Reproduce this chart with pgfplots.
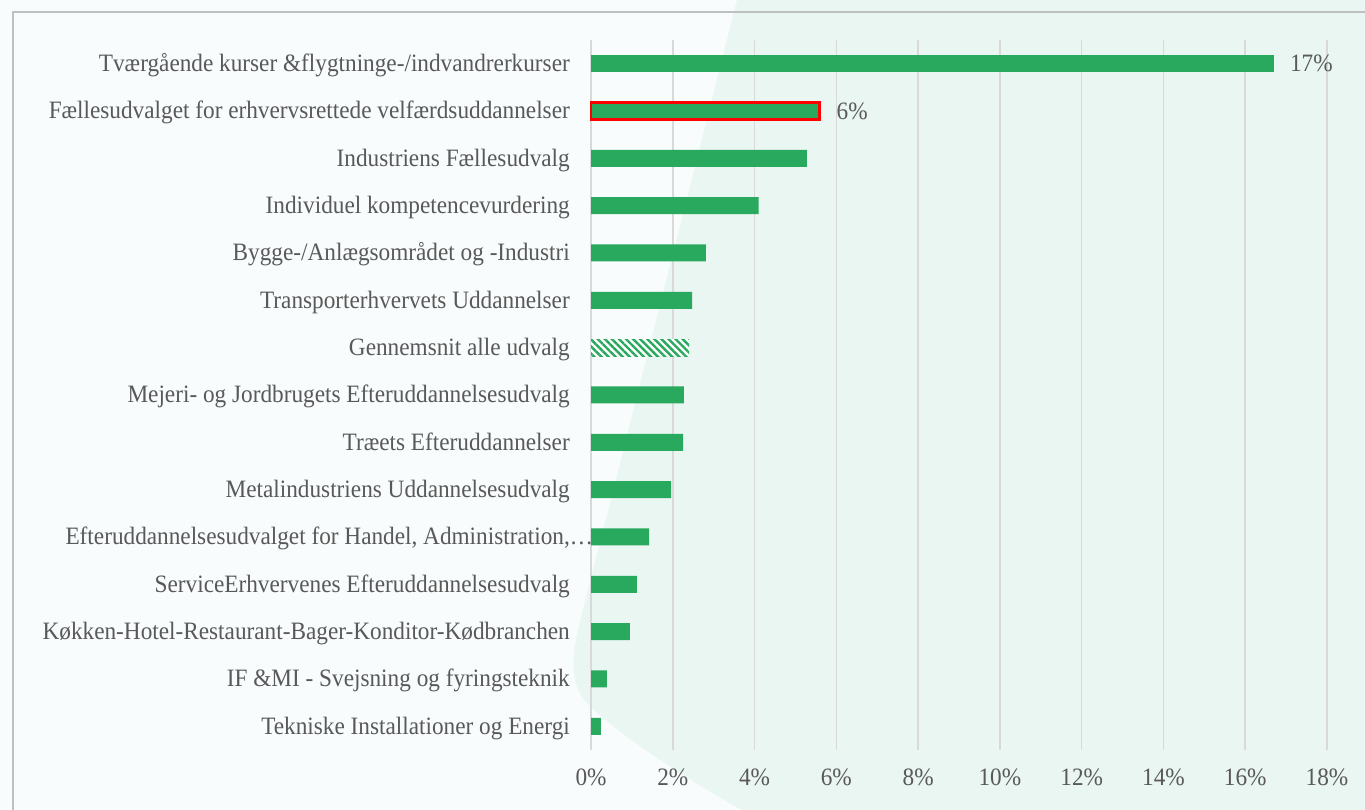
\documentclass[border=0pt]{standalone}
\usepackage{pgfplots}
\pgfplotsset{compat=1.18}
\usepackage{fontspec}
\setmainfont[FakeStretch=0.93]{Liberation Serif}
\usetikzlibrary{patterns.meta}
\definecolor{bgcol}{HTML}{F8FCFC}
\definecolor{shapecol}{HTML}{EAF6F1}
\definecolor{barg}{HTML}{28A95D}
\definecolor{txt}{HTML}{595959}
\definecolor{gridc}{HTML}{D9D9D9}
\definecolor{framec}{HTML}{BFBFBF}
\begin{document}
\fontsize{25bp}{29bp}\selectfont
\begin{tikzpicture}[x=1bp,y=1bp]
\useasboundingbox (0,0) rectangle (1365,809);
\clip (0,0) rectangle (1365,809);
\fill[bgcol] (0,0) rectangle (1365,809);
\fill[shapecol] (737,809) -- (578,179) .. controls (570,144) and (572,119) .. (590,103) .. controls (620,74) and (680,34) .. (745,-3) -- (1370,-3) -- (1370,812) -- cycle;
\draw[framec, line width=1.5bp] (13,-5) -- (13,797) -- (1370,797);
\begin{axis}[
  at={(591bp,59bp)}, anchor=south west,
  scale only axis, width=736bp, height=710bp,
  xmin=0, xmax=18, ymin=-0.5, ymax=14.5,
  xbar, bar width=17bp, bar shift=0pt,
  xtick={0,2,...,18},
  xticklabel={\pgfmathprintnumber{\tick}\%},
  /pgf/number format/assume math mode=true,
  ytick={0,...,14},
  yticklabels={
    Tekniske Installationer og Energi,
    IF \&MI - Svejsning og fyringsteknik,
    Køkken-Hotel-Restaurant-Bager-Konditor-Kødbranchen,
    ServiceErhvervenes Efteruddannelsesudvalg,
    {Efteruddannelsesudvalget for Handel, Administration,\rlap{…}},
    Metalindustriens Uddannelsesudvalg,
    Træets Efteruddannelser,
    Mejeri- og Jordbrugets Efteruddannelsesudvalg,
    Gennemsnit alle udvalg,
    Transporterhvervets Uddannelser,
    Bygge-/Anlægsområdet og -Industri,
    Individuel kompetencevurdering,
    Industriens Fællesudvalg,
    Fællesudvalget for erhvervsrettede velfærdsuddannelser,
    Tværgående kurser \&flygtninge-/indvandrerkurser},
  xmajorgrids, ymajorgrids=false,
  major grid style={gridc, line width=1.5bp},
  axis line style={draw=none},
  major tick length=0pt,
  tick label style={text=txt, inner sep=0pt},
  xticklabel style={anchor=base, yshift=-35bp},
  yticklabel style={anchor=base east, xshift=-21bp, yshift=-8bp},
  every node near coord/.append style={anchor=west, inner sep=0pt, xshift=16bp, text=txt},
  clip=false,
]
\addplot[fill=barg, draw=none] coordinates {
  (0.24,0) (0.39,1) (0.95,2) (1.12,3) (1.42,4) (1.96,5) (2.25,6) (2.27,7)
  (2.47,9) (2.81,10) (4.10,11) (5.28,12)};
\addplot[fill=white, draw=none,
  postaction={pattern={Lines[angle=-45,distance=5bp,line width=2.4bp]}, pattern color=barg}]
  coordinates {(2.40,8)};
\addplot[fill=barg, draw=red, line width=2.2bp,
  nodes near coords, point meta=explicit symbolic]
  coordinates {(5.59,13) [6\%]};
\addplot[fill=barg, draw=none,
  nodes near coords, point meta=explicit symbolic]
  coordinates {(16.70,14) [17\%]};
\end{axis}
\end{tikzpicture}
\end{document}
